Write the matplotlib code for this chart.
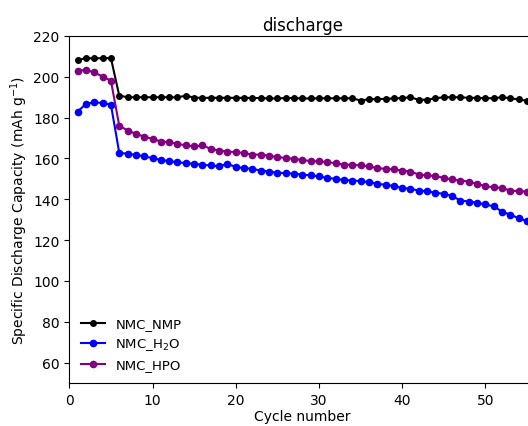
import matplotlib
matplotlib.use("Agg")
import matplotlib.pyplot as plt

cycles = list(range(1, 56))

nmc_nmp = [208.3, 209.1, 209.1, 209.1, 209.2, 190.8, 190.0, 190.0, 190.0, 190.0,
           190.0, 190.0, 189.9, 190.8, 189.8, 189.7, 189.7, 189.7, 189.7, 189.7,
           189.7, 189.6, 189.6, 189.4, 189.4, 189.6, 189.6, 189.4, 189.4, 189.5,
           189.5, 189.5, 189.5, 189.5, 188.4, 189.0, 189.1, 189.2, 189.4, 189.6,
           190.0, 188.7, 188.8, 189.5, 190.0, 190.0, 190.0, 189.7, 189.7, 189.5,
           189.5, 190.0, 189.5, 188.9, 188.3]

nmc_h2o = [183.0, 186.7, 187.5, 187.2, 186.4, 162.8, 162.3, 161.8, 161.0, 160.2,
           159.3, 158.7, 158.2, 157.7, 157.4, 156.9, 156.6, 156.1, 157.4, 155.8,
           155.3, 154.9, 154.1, 153.6, 153.0, 152.8, 152.6, 152.1, 151.7, 151.2,
           150.5, 150.0, 149.5, 149.2, 148.9, 148.4, 147.6, 147.1, 146.5, 145.6,
           145.1, 144.3, 144.0, 143.2, 142.7, 141.6, 139.4, 138.9, 138.3, 137.5,
           136.5, 134.0, 132.4, 130.8, 129.3]

nmc_hpo = [203.0, 203.4, 202.2, 200.1, 198.1, 176.1, 173.7, 172.1, 170.7, 169.6,
           168.3, 168.0, 167.2, 166.4, 165.9, 166.4, 164.7, 163.9, 163.4, 163.1,
           162.6, 161.9, 161.9, 161.4, 160.6, 160.3, 159.8, 159.3, 158.7, 158.6,
           158.2, 157.7, 157.0, 156.9, 156.6, 156.1, 155.3, 154.9, 154.6, 154.1,
           153.6, 152.1, 151.7, 151.4, 150.5, 149.7, 149.2, 148.7, 147.6, 146.3,
           146.0, 145.5, 144.3, 144.0, 143.8]

fig = plt.figure(figsize=(5.28, 4.27), dpi=100)
# axes run a little past the right edge of the figure, as in the reference
ax = fig.add_axes([69.3 / 528, 43 / 427, 466 / 528, 347 / 427])

ax.plot(cycles, nmc_nmp, "-o", color="black", linewidth=1.5, markersize=4, label="NMC_NMP")
ax.plot(cycles, nmc_h2o, "-o", color="blue", linewidth=1.5, markersize=4.5, label="NMC_H$_2$O")
ax.plot(cycles, nmc_hpo, "-o", color="purple", linewidth=1.5, markersize=4.5, label="NMC_HPO")

ax.set_xlim(0, 56)
ax.set_ylim(50, 220)
ax.set_xticks([0, 10, 20, 30, 40, 50])
ax.set_yticks(range(60, 221, 20))
ax.set_xlabel("Cycle number", labelpad=2)
ax.set_ylabel("Specific Discharge Capacity (mAh g$^{-1}$)", labelpad=2)
ax.set_title("discharge", pad=4)
ax.legend(loc="lower left", frameon=False, fontsize=9.5, handlelength=1.8,
          labelspacing=0.45)

fig.savefig("out.png", dpi=100)
